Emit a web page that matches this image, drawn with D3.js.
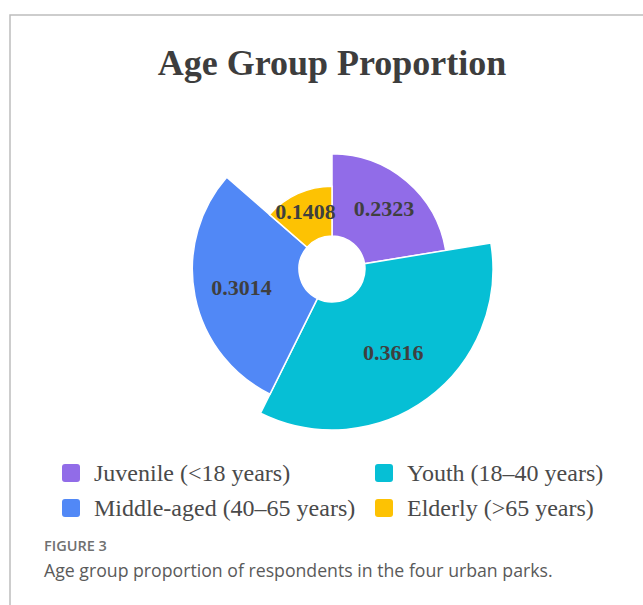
<!DOCTYPE html>
<html>
<head>
<meta charset="utf-8">
<script src="https://cdn.jsdelivr.net/npm/d3@7"></script>
<style>
  html, body { margin: 0; padding: 0; background: #fff; }
  svg { display: block; }
</style>
</head>
<body>
<svg id="chart" width="643" height="605"></svg>
<script>
var categories = ["Juvenile (<18 years)", "Youth (18\u201340 years)", "Middle-aged (40\u201365 years)", "Elderly (>65 years)"];
var values = [0.2323, 0.3616, 0.3014, 0.1408];
var colors = ["#916ce8", "#06bfd5", "#5188f6", "#fdc203"];

var svg = d3.select("#chart"),
    cx = 332, cy = 269,
    innerR = 33, outerR = 161;

// frame
svg.append("path")
  .attr("d", "M10,605 L10,15 L643,15")
  .attr("fill", "none")
  .attr("stroke", "#bdbdbd")
  .attr("stroke-width", 1.5);

// title
svg.append("text")
  .attr("x", 332).attr("y", 75)
  .attr("text-anchor", "middle")
  .style("font-family", "'Liberation Serif', 'Times New Roman', serif")
  .style("font-weight", "bold")
  .style("font-size", "36px")
  .attr("fill", "#3d3d3d")
  .text("Age Group Proportion");

// rose pie: angle ~ share, radius ~ value
var rScale = d3.scaleLinear().domain([0, d3.max(values)]).range([innerR, outerR]);
var pie = d3.pie().sort(null).value(function(d) { return d; });
var arcs = pie(values);

var g = svg.append("g").attr("transform", "translate(" + cx + "," + cy + ")");

g.selectAll("path.slice")
  .data(arcs)
  .enter()
  .append("path")
  .attr("class", "slice")
  .attr("d", function(d) {
    return d3.arc().innerRadius(innerR).outerRadius(rScale(d.data))(d);
  })
  .attr("fill", function(d, i) { return colors[i]; })
  .attr("stroke", "#fff")
  .attr("stroke-width", 1.5);

g.selectAll("text.lbl")
  .data(arcs)
  .enter()
  .append("text")
  .attr("class", "lbl")
  .attr("transform", function(d) {
    var a = (d.startAngle + d.endAngle) / 2,
        r = (innerR + rScale(d.data)) / 2 + 6;
    return "translate(" + (r * Math.sin(a)) + "," + (-r * Math.cos(a)) + ")";
  })
  .attr("text-anchor", "middle")
  .attr("dy", "0.35em")
  .style("font-family", "'Liberation Serif', 'Times New Roman', serif")
  .style("font-weight", "bold")
  .style("font-size", "22px")
  .attr("fill", "#3f3f3f")
  .text(function(d) { return d.data.toFixed(4); });

// legend
var legX = [62, 375], legY = [473, 508];
var leg = svg.selectAll("g.leg")
  .data(categories)
  .enter()
  .append("g")
  .attr("class", "leg")
  .attr("transform", function(d, i) {
    return "translate(" + legX[i % 2] + "," + legY[Math.floor(i / 2)] + ")";
  });

leg.append("rect")
  .attr("x", 0).attr("y", -9)
  .attr("width", 18).attr("height", 18)
  .attr("rx", 3)
  .attr("fill", function(d, i) { return colors[i]; });

leg.append("text")
  .attr("x", 32).attr("y", 0)
  .attr("dy", "0.35em")
  .style("font-family", "'Liberation Serif', 'Times New Roman', serif")
  .style("font-size", "24px")
  .attr("fill", "#4a4a4a")
  .text(function(d) { return d; });

// caption
svg.append("text")
  .attr("x", 44).attr("y", 551)
  .style("font-family", "'Open Sans', sans-serif")
  .style("font-size", "14.5px")
  .style("font-weight", "600")
  .attr("fill", "#707070")
  .text("FIGURE 3");

svg.append("text")
  .attr("x", 44).attr("y", 577)
  .style("font-family", "'Open Sans', sans-serif")
  .style("font-size", "17.7px")
  .attr("fill", "#5a5a5a")
  .text("Age group proportion of respondents in the four urban parks.");
</script>
</body>
</html>
